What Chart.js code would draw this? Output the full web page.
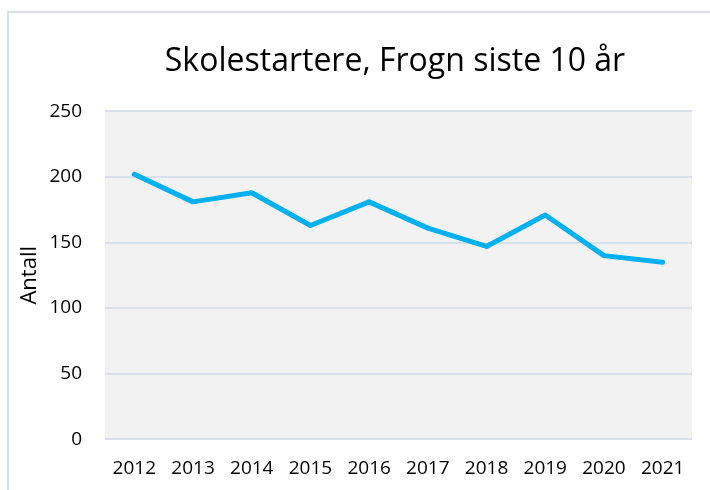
<!DOCTYPE html>
<html>
<head>
<meta charset="utf-8">
<script src="https://cdn.jsdelivr.net/npm/chart.js@4"></script>
<style>
  html, body { margin: 0; padding: 0; background: #fff; overflow: hidden; }
  #wrap { position: relative; width: 710px; height: 490px; overflow: hidden; }
  #frame { position: absolute; left: 7px; top: 11px; width: 780px; height: 540px;
           border: 2px solid #d9dfec; box-sizing: border-box; }
  canvas { position: absolute; left: 0; top: 0; }
</style>
</head>
<body>
<div id="wrap">
  <div id="frame"></div>
  <canvas id="Chart1" width="780" height="510"></canvas>
</div>
<script>
document.addEventListener("DOMContentLoaded", function () {

  const years = ["2012", "2013", "2014", "2015", "2016", "2017", "2018", "2019", "2020", "2021"]
  const antall = [202, 181, 188, 163, 181, 161, 147, 171, 140, 135]
  const yTicks = [0, 50, 100, 150, 200, 250]

  // grey plot area like the original
  const plotBg = {
    id: 'plotBg',
    beforeDraw(chart) {
      const a = chart.chartArea
      const ctx = chart.ctx
      ctx.save()
      ctx.fillStyle = '#f2f2f2'
      ctx.fillRect(a.left, a.top, a.right - a.left, a.bottom - a.top)
      ctx.restore()
    }
  }

  const config1 = {
    type: 'line',
    data: {
      labels: years,
      datasets: [{
        data: antall,
        borderColor: '#00b0f0',
        borderWidth: 5,
        borderCapStyle: 'round',
        borderJoinStyle: 'round',
        pointRadius: 0,
        tension: 0
      }]
    },
    options: {
      responsive: false,
      animation: false,
      layout: {
        padding: { left: 17, right: 7, top: 20, bottom: 12 }
      },
      scales: {
        x: {
          offset: true,
          grid: { display: false, drawTicks: false },
          border: { display: false },
          ticks: {
            color: '#000',
            font: { family: 'Open Sans', size: 19 },
            padding: 18,
            maxRotation: 0,
            autoSkip: false
          }
        },
        y: {
          min: 0,
          max: 250,
          afterBuildTicks: function (axis) {
            axis.ticks = yTicks.map(v => ({ value: v }))
          },
          grid: { color: '#d9dfec', lineWidth: 2, drawTicks: false },
          border: { display: false },
          ticks: {
            color: '#000',
            font: { family: 'Open Sans', size: 19 },
            padding: 23
          },
          title: {
            display: true,
            text: 'Antall',
            color: '#000',
            font: { family: 'Open Sans', size: 22 },
            padding: { top: 0, bottom: -17 }
          }
        },
        // empty space on the right, the original chart runs past the picture
        yRight: {
          position: 'right',
          grid: { display: false, drawTicks: false },
          border: { display: false },
          ticks: { display: false },
          afterFit: function (scale) { scale.width = 81 }
        }
      },
      plugins: {
        title: {
          display: true,
          text: 'Skolestartere, Frogn siste 10 år',
          color: '#000',
          font: { family: 'Open Sans', size: 32, weight: 'normal' },
          padding: { top: 23, bottom: 30 }
        },
        legend: { display: false },
        tooltip: { enabled: false }
      }
    },
    plugins: [plotBg]
  }

  var myChart1 = new Chart(document.getElementById('Chart1'), config1)
})
</script>
</body>
</html>
